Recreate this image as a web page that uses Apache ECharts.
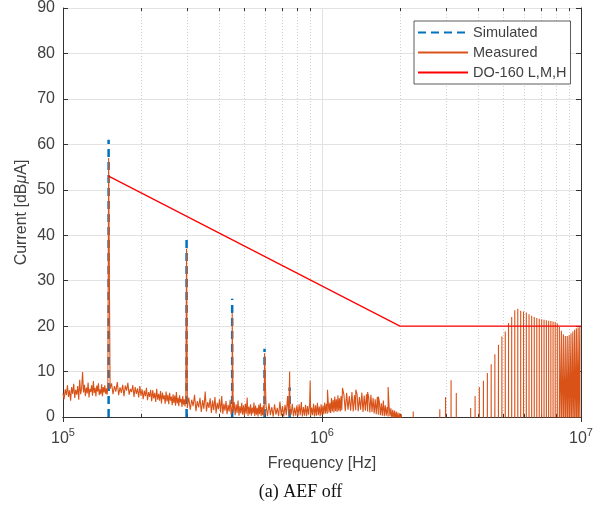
<!DOCTYPE html>
<html>
<head>
<meta charset="utf-8">
<script src="https://cdn.jsdelivr.net/npm/echarts@6/dist/echarts.min.js"></script>
<style>
  html, body { margin: 0; padding: 0; background: #fff; }
  #chart { width: 601px; height: 507px; }
</style>
</head>
<body>
<div id="chart"></div>
<script>
  // simulated harmonics (Hz, dBuA)
  const simFreq = [150e3, 300e3, 450e3, 600e3, 750e3]
  const simPeak = [61, 40, 26, 15, 6.5]

  // measured noise floor on a regular kHz grid
  const noiseA = { start: 100, step: 1, values: [
    5.2,3.9,6.1,4.8,7.0,4.4,5.9,3.6,6.6,5.1, 7.3,4.2,6.0,4.9,6.8,3.8,8.2,5.0,6.3,9.9,
    5.4,7.1,4.6,6.5,5.2,7.6,4.3,6.2,5.5,7.0, 4.7,7.9,5.3,6.4,4.5,6.9,5.6,7.4,4.8,6.1,
    5.0,7.2,4.6,6.6,5.4,7.0,5.1,6.3,4.9,6.7] }
  const noiseB = { start: 152, step: 2, values: [
    6.2,7.4,5.0,6.8,5.6,7.7,4.8,6.5,5.3,7.1,4.6,6.9,5.8,7.5,4.9,6.2,5.5,7.0,4.4,6.6,5.1,6.3,4.3,6.8,4.7,
    6.1,3.9,5.8,4.6,6.4,3.7,5.5,4.4,6.0,3.5,5.9,4.1,5.3,3.3,6.2,3.8,5.1,3.6,5.7,3.0,5.4,3.9,4.8,2.9,5.6,
    3.4,4.9,2.8,5.3,3.6,4.5,2.6,5.0,3.1,4.7,2.5,5.5,3.0,4.2,2.4,4.8,3.2,4.0,2.2,4.6,2.7,3.9,2.3,4.4] }
  const noiseC = { start: 302, step: 4, values: [
    2.0,4.3,1.6,3.8,2.4,4.9,1.3,3.5,2.1,4.2,1.1,3.7,1.8,5.6,1.2,3.3,2.0,4.1,0.9,3.6,1.5,4.4,0.8,3.1,1.7,
    3.9,1.0,4.6,0.7,2.9,1.4,3.5,0.6,2.7,1.2,3.8,0.5,2.5,1.0,3.3,0.4,2.8,0.9,3.6,0.3,2.4,0.8,3.1,0.5,2.6,
    0.3,2.9,0.7,4.3,0.2,2.3,0.6,2.8,0.3,2.1,0.8,3.2,0.2,2.5,0.5,2.0,0.1,2.7,0.6,3.0,0.2,2.2,0.4,2.6,0.3] }
  const noiseD = { start: 608, step: 8, values: [
    2.5,0.2,3.0,0.4,2.2,0.1,2.8,0.5,2.0,0.2,3.4,0.3,2.4,0.1,2.7,0.4,4.6,0.2,2.3,0.5,2.9,0.1,2.1,0.3,2.6,
    0.2,2.8,0.4,3.3,0.1,2.2,0.3,2.7,0.2,2.4,0.5,3.0,0.2,2.1,0.4,2.9,0.1,2.6,0.3,3.1,0.4,2.3,0.2,2.8,0.5,
    2.5,0.6,3.2,0.8,2.9,0.7,3.6,1.0,3.1,0.9,4.2,1.2,3.8,1.0,4.5,1.3,3.9,1.1,4.8,1.4,4.1,1.2,4.6,1.5] }
  const noiseE = { start: 1215, step: 15, values: [
    4.9,1.3,5.3,1.6,4.6,1.4,5.5,1.2,4.8,1.5,5.1,1.3,4.4,1.6,5.4,1.1,4.7,1.4,5.0,1.2,4.3,1.0,4.9,1.1,4.2,
    0.8,3.9,0.6,4.4,0.5,3.4,0.4,3.0,0.3,3.6,0.2,2.6,0.3,2.2,0.1,2.5,0.2,1.9,-0.3,1.6,-0.5,1.4,-0.5,1.2,-0.5,
    1.0,-0.8,0.8,-1,0.6,-5] }

  // measured harmonic peaks on top of the noise (kHz, dBuA)
  const spikeKHz = [150, 300, 450, 600, 750, 900, 1050, 1200, 1350, 1500, 1650, 1800]
  const spikePeak = [57, 37, 23, 14, 10, 8, 6, 6.4, 6, 5.5, 4.5, 6.6]

  // measured high-frequency harmonic comb
  const combMHz = [2.25, 2.85, 3.0, 3.15, 3.3, 3.75, 3.9, 4.05, 4.2, 4.35, 4.5, 4.65, 4.8, 4.95, 5.1, 5.25,
    5.4, 5.55, 5.7, 5.85, 6.0, 6.15, 6.3, 6.45, 6.6, 6.75, 6.9, 7.05, 7.2, 7.35, 7.5, 7.65, 7.8, 7.95, 8.1,
    8.25, 8.4, 8.55, 8.7, 8.85, 9.0, 9.15, 9.3, 9.45, 9.6, 9.75, 9.9]
  const combPeak = [1.2, 1.7, 4.4, 8.1, 5.3, 2.0, 4.6, 6.6, 8.0, 9.7, 11.6, 13.8, 15.9, 17.7, 18.8, 20.7,
    22.0, 23.5, 23.8, 23.4, 23.2, 23.0, 22.6, 22.3, 22.0, 21.8, 21.6, 21.5, 21.4, 21.3, 21.2, 21.1, 21.0, 20.9, 20.6,
    19.8, 19.0, 18.2, 17.8, 17.8, 18.0, 18.4, 18.8, 19.2, 19.5, 19.7, 19.9]

  // DO-160 L,M,H limit
  const limitFreq = [150e3, 2e6, 10e6]
  const limitVal = [53, 20, 20]

  // minor log grid positions
  const minorFreq = [2e5, 3e5, 4e5, 5e5, 6e5, 7e5, 8e5, 9e5, 2e6, 3e6, 4e6, 5e6, 6e6, 7e6, 8e6, 9e6]

  const font = 'Liberation Sans, Arial, Helvetica, sans-serif'
  const txt = '#404040'
  const axisCol = '#333'

  const simData = []
  simFreq.forEach((f, i) => {
    simData.push([f, 0], [f, simPeak[i]], [f, '-'])
  })

  let lowData = []
  ;[noiseA, noiseB, noiseC, noiseD, noiseE].forEach(seg => {
    seg.values.forEach((v, i) => lowData.push([(seg.start + i * seg.step) * 1e3, v]))
  })
  spikeKHz.forEach((f, i) => lowData.push([f * 1e3, spikePeak[i]]))
  lowData.sort((a, b) => a[0] - b[0])
  const measData = lowData.slice()
  combMHz.forEach((f, i) => {
    const hz = f * 1e6
    measData.push([hz - 2e3, -5], [hz, combPeak[i]], [hz + 2e3, -5])
  })
  const limitData = limitFreq.map((f, i) => [f, limitVal[i]])

  const mychart = echarts.init(document.getElementById('chart'))
  mychart.setOption({
    animation: false,
    backgroundColor: '#fff',
    title: {
      text: '(a) AEF off',
      left: 'center',
      top: 478,
      textStyle: { fontFamily: 'Liberation Serif, Times New Roman, serif', fontSize: 18, fontWeight: 'normal', color: '#111' }
    },
    grid: { left: 63, right: 20, top: 8, bottom: 90 },
    legend: {
      data: ['Simulated', 'Measured', 'DO-160 L,M,H'],
      orient: 'vertical',
      left: 414,
      top: 21,
      itemWidth: 50,
      itemHeight: 12,
      itemGap: 5,
      padding: [4, 4, 4, 3],
      borderColor: '#333',
      borderWidth: 0.8,
      backgroundColor: '#fff',
      selectedMode: false,
      itemStyle: { opacity: 0 },
      textStyle: { fontFamily: font, fontSize: 14.5, color: txt }
    },
    xAxis: [
      {
        type: 'log',
        logBase: 10,
        min: 1e5,
        max: 1e7,
        name: 'Frequency [Hz]',
        nameLocation: 'middle',
        nameGap: 39,
        nameTextStyle: { fontFamily: font, fontSize: 16, color: txt },
        axisLine: { lineStyle: { color: axisCol, width: 1 } },
        axisTick: { inside: true, length: 5, lineStyle: { color: axisCol } },
        splitLine: { show: true, lineStyle: { color: '#e2e2e2', width: 1 } },
        axisLabel: {
          margin: 10,
          formatter: v => '{b|10}{s|' + Math.round(Math.log10(v)) + '}',
          rich: {
            b: { fontFamily: font, fontSize: 16, color: txt, lineHeight: 24 },
            s: { fontFamily: font, fontSize: 11, color: txt, lineHeight: 12, verticalAlign: 'top' }
          }
        }
      },
      {
        type: 'log',
        logBase: 10,
        min: 1e5,
        max: 1e7,
        position: 'top',
        axisLine: { lineStyle: { color: axisCol, width: 1 } },
        axisTick: { inside: true, length: 5, lineStyle: { color: axisCol } },
        axisLabel: { show: false },
        splitLine: { show: false }
      }
    ],
    yAxis: [
      {
        type: 'value',
        min: 0,
        max: 90,
        interval: 10,
        name: 'Current [dB{i|μ}A]',
        nameLocation: 'middle',
        nameGap: 33,
        nameMoveOverlap: false,
        nameTextStyle: {
          fontFamily: font, fontSize: 16, color: txt,
          rich: { i: { fontFamily: font, fontSize: 16, color: txt, fontStyle: 'italic' } }
        },
        axisLine: { show: true, lineStyle: { color: axisCol, width: 1 } },
        axisTick: { show: true, inside: true, length: 5, lineStyle: { color: axisCol } },
        axisLabel: { fontFamily: font, fontSize: 16, color: txt, margin: 8 },
        splitLine: { show: true, lineStyle: { color: '#e2e2e2', width: 1 } }
      },
      {
        type: 'value',
        min: 0,
        max: 90,
        interval: 10,
        position: 'right',
        axisLine: { show: true, lineStyle: { color: axisCol, width: 1 } },
        axisTick: { show: true, inside: true, length: 5, lineStyle: { color: axisCol } },
        axisLabel: { show: false },
        splitLine: { show: false }
      }
    ],
    series: [
      {
        type: 'custom',
        name: 'minorGrid',
        z: 1,
        silent: true,
        data: minorFreq.map(f => [f, 0]),
        renderItem: (params, api) => {
          const f = api.value(0)
          const b = api.coord([f, 0])
          const t = api.coord([f, 90])
          const x = Math.round(b[0]) + 0.5
          return {
            type: 'group',
            children: [
              { type: 'line', shape: { x1: x, y1: b[1], x2: x, y2: t[1] },
                style: { stroke: '#cfcfcf', lineWidth: 1, lineDash: [1, 2] } },
              { type: 'line', shape: { x1: x, y1: b[1], x2: x, y2: b[1] - 3 },
                style: { stroke: axisCol, lineWidth: 1 } },
              { type: 'line', shape: { x1: x, y1: t[1], x2: x, y2: t[1] + 3 },
                style: { stroke: axisCol, lineWidth: 1 } }
            ]
          }
        }
      },
      {
        name: 'Simulated',
        type: 'line',
        z: 3,
        data: simData,
        symbol: 'none',
        connectNulls: false,
        lineStyle: { color: '#0072BD', width: 2.5, type: [8, 5] },
        itemStyle: { color: '#0072BD' }
      },
      {
        name: 'Measured',
        type: 'line',
        z: 3,
        data: measData,
        symbol: 'none',
        clip: true,
        lineStyle: { color: '#D95319', width: 1.1 },
        itemStyle: { color: '#D95319' }
      },
      {
        name: 'DO-160 L,M,H',
        type: 'line',
        z: 4,
        data: limitData,
        symbol: 'none',
        lineStyle: { color: '#FF0000', width: 1.2 },
        itemStyle: { color: '#FF0000' }
      }
    ]
  })
</script>
</body>
</html>
